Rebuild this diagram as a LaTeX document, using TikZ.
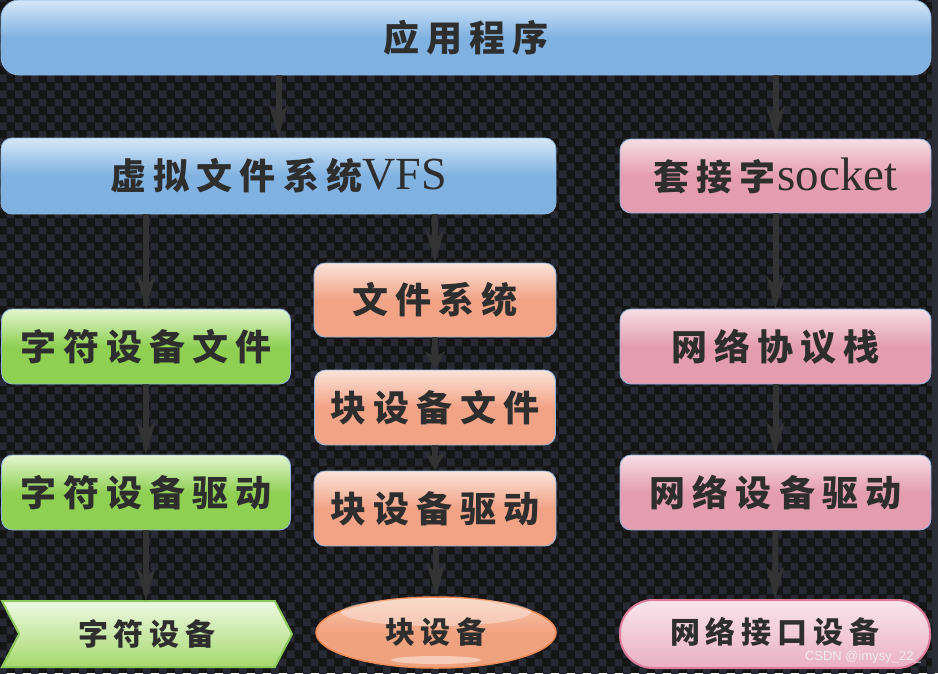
\documentclass[tikz,border=0pt]{standalone}
\usepackage{fontspec}
\newfontfamily\cjk{Noto Sans CJK SC}
\newfontfamily\latn{Liberation Serif}
\newfontfamily\wmk{Liberation Sans}
\usetikzlibrary{arrows.meta,shapes.geometric,shapes.symbols,patterns}
\pgfdeclarepatternformonly{chk}{\pgfpointorigin}{\pgfqpoint{16pt}{16pt}}{\pgfqpoint{16pt}{16pt}}{%
  \pgfpathrectangle{\pgfpointorigin}{\pgfqpoint{8pt}{8pt}}%
  \pgfpathrectangle{\pgfqpoint{8pt}{8pt}}{\pgfqpoint{8pt}{8pt}}%
  \pgfusepath{fill}}
\definecolor{bgA}{HTML}{151515}
\definecolor{bgB}{HTML}{272A33}
\definecolor{strip}{HTML}{2A2D35}
\definecolor{txt}{HTML}{2E2E2E}
\definecolor{arrowc}{HTML}{333333}
\definecolor{blueT}{HTML}{D5E7F8}
\definecolor{blueB}{HTML}{7FB1E1}
\definecolor{pinkT}{HTML}{F6DDE5}
\definecolor{pinkB}{HTML}{E49CB0}
\definecolor{oranT}{HTML}{FBE3D9}
\definecolor{oranB}{HTML}{F2A285}
\definecolor{greenT}{HTML}{E3F5D0}
\definecolor{greenB}{HTML}{8FD052}
\definecolor{edge}{HTML}{8FB4DD}
\definecolor{chevT}{HTML}{EEF9E3}
\definecolor{chevB}{HTML}{A5D86B}
\definecolor{chevE}{HTML}{8CC85A}
\definecolor{ellT}{HTML}{F8C9B2}
\definecolor{ellB}{HTML}{F0A27F}
\definecolor{ellE}{HTML}{EC8A55}
\definecolor{pillT}{HTML}{F9E5EC}
\definecolor{pillB}{HTML}{EAB0C3}
\definecolor{pillE}{HTML}{DE7A9A}
\definecolor{wm}{HTML}{EDEDED}
\newcommand\g{\hspace{0.2em}}
\tikzset{
  box/.style={draw=edge, line width=0.8pt, rounded corners=11pt, inner sep=0pt, text=txt,
    font=\fontsize{36}{40}\selectfont\cjk\bfseries},
  bluebox/.style={box, top color=blueT, bottom color=blueB, middle color=blueB},
  pinkbox/.style={box, top color=pinkT, bottom color=pinkB, middle color=pinkB},
  oranbox/.style={box, top color=oranT, bottom color=oranB, middle color=oranB},
  greenbox/.style={box, top color=greenT, bottom color=greenB, middle color=greenB},
  devtext/.style={text=txt, inner sep=0pt, font=\fontsize{30}{34}\selectfont\cjk\bfseries},
  arr/.style={draw=arrowc, line width=6pt, -{Stealth[length=32pt,width=18pt,inset=9pt]}},
  sarr/.style={draw=arrowc, line width=6pt, -{Stealth[length=18pt,width=20pt,inset=5pt]}},
}
\begin{document}
\begin{tikzpicture}[x=1pt,y=-1pt]
\useasboundingbox (0,0) rectangle (938,673);
\fill[bgA] (0,0) rectangle (938,673);
\fill[pattern=chk, pattern color=bgB] (0,0) rectangle (938,673);
\fill[strip] (932,0) rectangle (938,673);

% top level
\node[bluebox, rounded corners=18pt, minimum width=930pt, minimum height=75pt] (app) at (466,37.5) {应\g 用\g 程\g 序};

% second row
\node[bluebox, minimum width=555pt, minimum height=76pt] (vfs) at (278.5,176) {虚\g 拟\g 文\g 件\g 系\g 统{\latn\mdseries\fontsize{46}{50}\selectfont VFS}};
\node[pinkbox, minimum width=311pt, minimum height=74pt] (sock) at (775.5,176) {套\g 接\g 字\hspace{0.05em}{\latn\mdseries\fontsize{47}{50}\selectfont socket}};

% middle
\node[oranbox, minimum width=242pt, minimum height=74pt] (fs) at (435,300) {文\g 件\g 系\g 统};
\node[oranbox, minimum width=241pt, minimum height=75pt] (bfile) at (435,407.5) {块\g 设\g 备\g 文\g 件};
\node[oranbox, minimum width=242pt, minimum height=75pt] (bdrv) at (435,508.5) {块\g 设\g 备\g 驱\g 动};

\node[greenbox, minimum width=289pt, minimum height=75pt] (cfile) at (146,346.5) {字\g 符\g 设\g 备\g 文\g 件};
\node[greenbox, minimum width=289pt, minimum height=75pt] (cdrv) at (146,492.5) {字\g 符\g 设\g 备\g 驱\g 动};

\node[pinkbox, minimum width=311pt, minimum height=75pt] (net) at (775.5,346.5) {网\g 络\g 协\g 议\g 栈};
\node[pinkbox, minimum width=311pt, minimum height=75pt] (ndrv) at (775.5,492.5) {网\g 络\g 设\g 备\g 驱\g 动};

% bottom devices
\node[signal, signal to=east, signal from=west, signal pointer angle=125,
  draw=chevE, line width=2pt, top color=chevT, bottom color=chevB,
  minimum width=290pt, minimum height=66pt, inner sep=0pt, outer sep=0pt] (cdev) at (147,634) {};
\node[devtext] (cdevt) at (cdev.center) {字\g 符\g 设\g 备};

\node[ellipse, draw=ellE, line width=1.5pt, top color=ellT, bottom color=ellB, middle color=ellB,
  minimum width=240pt, minimum height=71pt, inner sep=0pt] (bdev) at (436,632.5) {};
\fill[white, opacity=0.35] (436,612) ellipse [x radius=95pt, y radius=14pt];
\fill[white, opacity=0.45] (436,660) ellipse [x radius=45pt, y radius=4pt];
\node[devtext] (bdevt) at (bdev.center) {块\g 设\g 备};

\node[draw=pillE, line width=2pt, rounded corners=33pt, top color=pillT, bottom color=pillB,
  minimum width=310pt, minimum height=68pt, inner sep=0pt] (ndev) at (775,634) {};
\node[devtext] (ndevt) at (775,632) {网\g 络\g 接\g 口\g 设\g 备};

\node[text=wm, font=\fontsize{13}{15}\selectfont\wmk, anchor=east, inner sep=0pt] (mark) at (921,657) {CSDN @imysy\_22\_};

% connectors
\draw[arr] (app.south -| vfs.north) -- (vfs.north);
\draw[arr] (app.south -| sock.north) -- (sock.north);
\draw[arr] (vfs.south -| cfile.north) -- (cfile.north);
\draw[arr] (vfs.south -| fs.north) -- (fs.north);
\draw[arr] (sock.south) -- (net.north);
\draw[arr] (cfile.south) -- (cdrv.north);
\draw[arr] (cdrv.south) -- (cdrv.south |- cdev.north);
\draw[sarr] (fs.south) -- (bfile.north);
\draw[sarr] (bfile.south) -- (bdrv.north);
\draw[arr] (bdrv.south -| bdev.north) -- (bdev.north);
\draw[arr] (net.south) -- (ndrv.north);
\draw[arr] (ndrv.south) -- (ndev.north);
\end{tikzpicture}
\end{document}
